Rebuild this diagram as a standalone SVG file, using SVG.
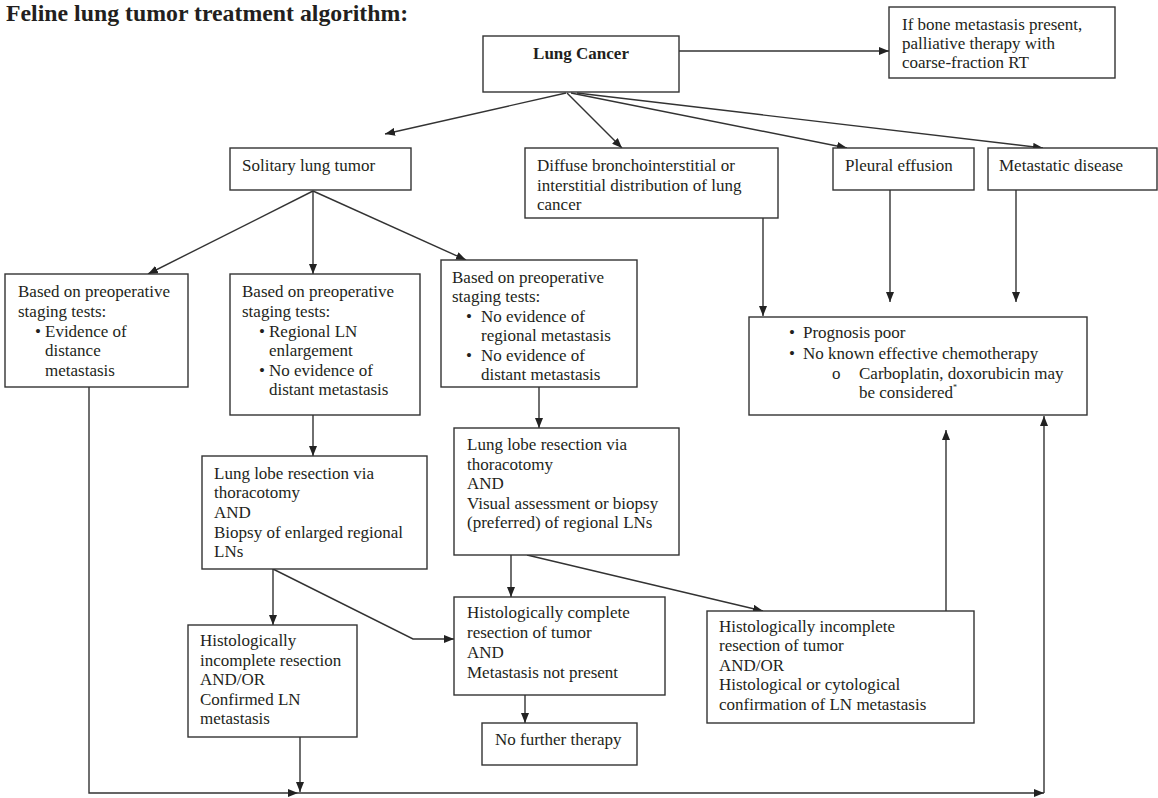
<svg xmlns="http://www.w3.org/2000/svg" width="1158" height="798" viewBox="0 0 1158 798">
<style>
text{font-family:"Liberation Serif","Times New Roman",serif;font-size:17px;fill:#231f20}
.t{font-size:23.8px;font-weight:bold}
.b{font-weight:bold}
rect{fill:#fff;stroke:#333;stroke-width:1.4}
#connectors path,#connectors line{stroke:#333;stroke-width:1.4;fill:none}
.sup{font-size:8px}
</style>
<defs>
<marker id="ah" viewBox="0 0 10 8" refX="10" refY="4" markerWidth="10" markerHeight="8" markerUnits="userSpaceOnUse" orient="auto">
<path d="M0,0 L10,4 L0,8 z" fill="#222"/>
</marker>
</defs>
<rect x="0" y="0" width="1158" height="798" style="fill:#fff;stroke:none"/>
<text class="t" x="6" y="21">Feline lung tumor treatment algorithm:</text>

<g id="connectors">
<line x1="679" y1="51" x2="889" y2="51" marker-end="url(#ah)"/>
<line x1="566" y1="93" x2="385" y2="134" marker-end="url(#ah)"/>
<line x1="567" y1="93" x2="622" y2="148" marker-end="url(#ah)"/>
<line x1="571" y1="93" x2="847" y2="148" marker-end="url(#ah)"/>
<line x1="577" y1="93" x2="1043" y2="148" marker-end="url(#ah)"/>
<line x1="313" y1="191" x2="148" y2="274" marker-end="url(#ah)"/>
<line x1="313" y1="191" x2="313" y2="274" marker-end="url(#ah)"/>
<line x1="313" y1="191" x2="466" y2="260" marker-end="url(#ah)"/>
<line x1="763" y1="218" x2="763" y2="316" marker-end="url(#ah)"/>
<line x1="890" y1="190" x2="890" y2="302" marker-end="url(#ah)"/>
<line x1="1016" y1="190" x2="1016" y2="302" marker-end="url(#ah)"/>
<line x1="313" y1="415" x2="313" y2="456" marker-end="url(#ah)"/>
<line x1="539" y1="387" x2="539" y2="428" marker-end="url(#ah)"/>
<line x1="273" y1="569" x2="273" y2="625" marker-end="url(#ah)"/>
<path d="M273,569 L413,639 L454,639" marker-end="url(#ah)"/>
<line x1="511" y1="555" x2="511" y2="597" marker-end="url(#ah)"/>
<line x1="527" y1="555" x2="763" y2="611" marker-end="url(#ah)"/>
<line x1="525" y1="695" x2="525" y2="723" marker-end="url(#ah)"/>
<line x1="946" y1="611" x2="946" y2="430" marker-end="url(#ah)"/>
<line x1="300" y1="737" x2="300" y2="792" marker-end="url(#ah)"/>
<path d="M89,387 L89,793 L298,793" marker-end="url(#ah)"/>
<line x1="298" y1="793" x2="1044" y2="793" marker-end="url(#ah)"/>
<line x1="1044" y1="793" x2="1044" y2="416" marker-end="url(#ah)"/>
</g>

<g id="lung-cancer">
<rect x="483" y="36" width="196" height="56"/>
<text class="b" x="581" y="59" text-anchor="middle">Lung Cancer</text>
</g>

<g id="bone-metastasis">
<rect x="889" y="7" width="226" height="71"/>
<text x="902" y="30">If bone metastasis present,</text>
<text x="902" y="49">palliative therapy with</text>
<text x="902" y="68">coarse-fraction RT</text>
</g>

<g id="solitary">
<rect x="230" y="148" width="181" height="42"/>
<text x="242" y="171">Solitary lung tumor</text>
</g>

<g id="diffuse">
<rect x="525" y="148" width="253" height="70"/>
<text x="537" y="171">Diffuse bronchointerstitial or</text>
<text x="537" y="191">interstitial distribution of lung</text>
<text x="537" y="210">cancer</text>
</g>

<g id="pleural">
<rect x="833" y="148" width="141" height="42"/>
<text x="845" y="171">Pleural effusion</text>
</g>

<g id="metastatic">
<rect x="988" y="148" width="169" height="42"/>
<text x="999" y="171">Metastatic disease</text>
</g>

<g id="distant-evidence">
<rect x="5" y="274" width="183" height="113"/>
<text x="18" y="297">Based on preoperative</text>
<text x="18" y="317">staging tests:</text>
<text x="35" y="337">•</text>
<text x="45" y="337">Evidence of</text>
<text x="45" y="356">distance</text>
<text x="45" y="376">metastasis</text>
</g>

<g id="regional-ln">
<rect x="230" y="274" width="190" height="141"/>
<text x="242" y="297">Based on preoperative</text>
<text x="242" y="317">staging tests:</text>
<text x="259" y="337">•</text>
<text x="269" y="337">Regional LN</text>
<text x="269" y="356">enlargement</text>
<text x="259" y="376">•</text>
<text x="269" y="376">No evidence of</text>
<text x="269" y="395">distant metastasis</text>
</g>

<g id="no-metastasis">
<rect x="441" y="260" width="196" height="127"/>
<text x="452" y="283">Based on preoperative</text>
<text x="452" y="302">staging tests:</text>
<text x="466" y="322">•</text>
<text x="481" y="322">No evidence of</text>
<text x="481" y="341">regional metastasis</text>
<text x="466" y="361">•</text>
<text x="481" y="361">No evidence of</text>
<text x="481" y="380">distant metastasis</text>
</g>

<g id="prognosis">
<rect x="749" y="317" width="338" height="98"/>
<text x="789" y="338">•</text>
<text x="803" y="338">Prognosis poor</text>
<text x="789" y="359">•</text>
<text x="803" y="359">No known effective chemotherapy</text>
<text x="832" y="379">o</text>
<text x="859" y="379">Carboplatin, doxorubicin may</text>
<text x="859" y="398">be considered<tspan class="sup" dy="-8">*</tspan></text>
</g>

<g id="lobe-biopsy">
<rect x="202" y="456" width="225" height="113"/>
<text x="214" y="479">Lung lobe resection via</text>
<text x="214" y="498">thoracotomy</text>
<text x="214" y="518">AND</text>
<text x="214" y="538">Biopsy of enlarged regional</text>
<text x="214" y="557">LNs</text>
</g>

<g id="lobe-visual">
<rect x="454" y="428" width="225" height="127"/>
<text x="467" y="450">Lung lobe resection via</text>
<text x="467" y="470">thoracotomy</text>
<text x="467" y="489">AND</text>
<text x="467" y="509">Visual assessment or biopsy</text>
<text x="467" y="528">(preferred) of regional LNs</text>
</g>

<g id="incomplete-left">
<rect x="188" y="625" width="169" height="112"/>
<text x="200" y="646">Histologically</text>
<text x="200" y="666">incomplete resection</text>
<text x="200" y="685">AND/OR</text>
<text x="200" y="705">Confirmed LN</text>
<text x="200" y="724">metastasis</text>
</g>

<g id="complete">
<rect x="454" y="597" width="211" height="98"/>
<text x="467" y="618">Histologically complete</text>
<text x="467" y="638">resection of tumor</text>
<text x="467" y="658">AND</text>
<text x="467" y="678">Metastasis not present</text>
</g>

<g id="incomplete-right">
<rect x="707" y="611" width="267" height="112"/>
<text x="719" y="632">Histologically incomplete</text>
<text x="719" y="651">resection of tumor</text>
<text x="719" y="671">AND/OR</text>
<text x="719" y="690">Histological or cytological</text>
<text x="719" y="710">confirmation of LN metastasis</text>
</g>

<g id="no-further">
<rect x="482" y="723" width="155" height="42"/>
<text x="495" y="745">No further therapy</text>
</g>
</svg>
